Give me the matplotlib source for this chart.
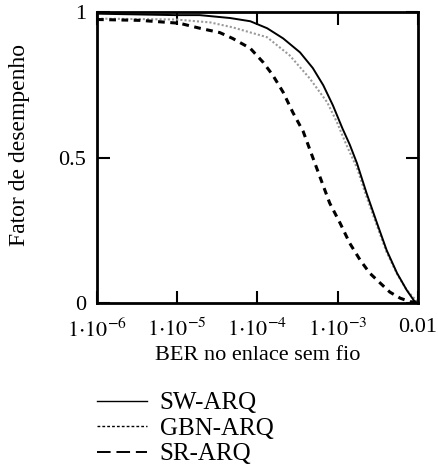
import numpy as np
import matplotlib
matplotlib.use("Agg")
import matplotlib.pyplot as plt
from matplotlib.lines import Line2D

plt.rcParams['font.family'] = ['Liberation Serif', 'DejaVu Serif']
plt.rcParams['mathtext.fontset'] = 'stix'

# valores (log10 da BER, fator de desempenho)
sw_logber = [-6.0, -5.02, -4.72, -4.34, -4.09, -3.88, -3.68, -3.47, -3.31, -3.18,
             -3.06, -2.94, -2.85, -2.76, -2.64, -2.51, -2.39, -2.26, -2.14, -2.04, -2.0]
sw_fator = [0.995, 0.99, 0.99, 0.98, 0.969, 0.945, 0.91, 0.862, 0.808, 0.749,
            0.68, 0.6, 0.545, 0.481, 0.378, 0.275, 0.182, 0.103, 0.045, 0.005, 0.0]

gbn_logber = [-6.0, -5.02, -4.59, -4.31, -3.88, -3.6, -3.35, -3.13, -3.01, -2.89,
              -2.76, -2.64, -2.51, -2.39, -2.26, -2.14, -2.0]
gbn_fator = [0.978, 0.975, 0.965, 0.948, 0.914, 0.852, 0.773, 0.69, 0.622, 0.543,
             0.465, 0.365, 0.265, 0.175, 0.10, 0.045, 0.003]

sr_logber = [-6.0, -5.46, -4.97, -4.72, -4.47, -4.31, -4.09, -3.93, -3.81, -3.68,
             -3.56, -3.43, -3.35, -3.22, -3.10, -2.97, -2.85, -2.72, -2.6, -2.47,
             -2.35, -2.22, -2.1, -2.0]
sr_fator = [0.975, 0.972, 0.962, 0.945, 0.93, 0.91, 0.876, 0.828, 0.784, 0.725,
            0.656, 0.59, 0.53, 0.433, 0.344, 0.275, 0.206, 0.148, 0.103, 0.069,
            0.038, 0.017, 0.005, 0.003]

xticks = [1e-6, 1e-5, 1e-4, 1e-3, 1e-2]
xtick_labels = [r'$1{\cdot}10^{-6}$', r'$1{\cdot}10^{-5}$', r'$1{\cdot}10^{-4}$',
                r'$1{\cdot}10^{-3}$', '0.01']
yticks = [0, 0.5, 1]
ytick_labels = ['0', '0.5', '1']

fig = plt.figure(figsize=(4.39, 4.70), dpi=100)
ax = fig.add_axes([0.221, 0.355, 0.731, 0.619])

ax.plot(10 ** np.array(gbn_logber), gbn_fator, color='#9a9a9a', lw=1.5,
        ls=(0, (1, 1)))
ax.plot(10 ** np.array(sw_logber), sw_fator, color='black', lw=1.4)
ax.plot(10 ** np.array(sr_logber), sr_fator, color='black', lw=2.2,
        ls=(0, (2.2, 1.8)))

ax.set_xscale('log')
ax.set_xlim(1e-6, 1e-2)
ax.set_ylim(0, 1)
ax.set_xticks(xticks)
ax.set_xticklabels(xtick_labels)
ax.minorticks_off()
ax.set_yticks(yticks)
ax.set_yticklabels(ytick_labels)
ax.tick_params(direction='in', length=9, width=1.5, top=True, right=True,
               labelsize=16)
ax.tick_params(axis='x', pad=11)
ax.tick_params(axis='y', pad=8)
for s in ax.spines.values():
    s.set_linewidth(2)

ax.set_xlabel('BER no enlace sem fio', fontsize=16, labelpad=3)
ax.set_ylabel('Fator de desempenho', fontsize=17)
ax.yaxis.set_label_coords(-0.208, 0.543)

handles = [Line2D([], [], color='black', lw=1.0),
           Line2D([], [], color='black', lw=1.0, ls=(0, (2, 1.5))),
           Line2D([], [], color='black', lw=1.4, ls=(0, (7, 3)))]
ax.legend(handles, ['SW-ARQ', 'GBN-ARQ', 'SR-ARQ'], loc='upper left',
          bbox_to_anchor=(0.0, -0.305), frameon=False, fontsize=18,
          handlelength=2.0, handletextpad=0.5, labelspacing=0.12,
          borderpad=0, borderaxespad=0)

fig.savefig('out.png', dpi=100)
